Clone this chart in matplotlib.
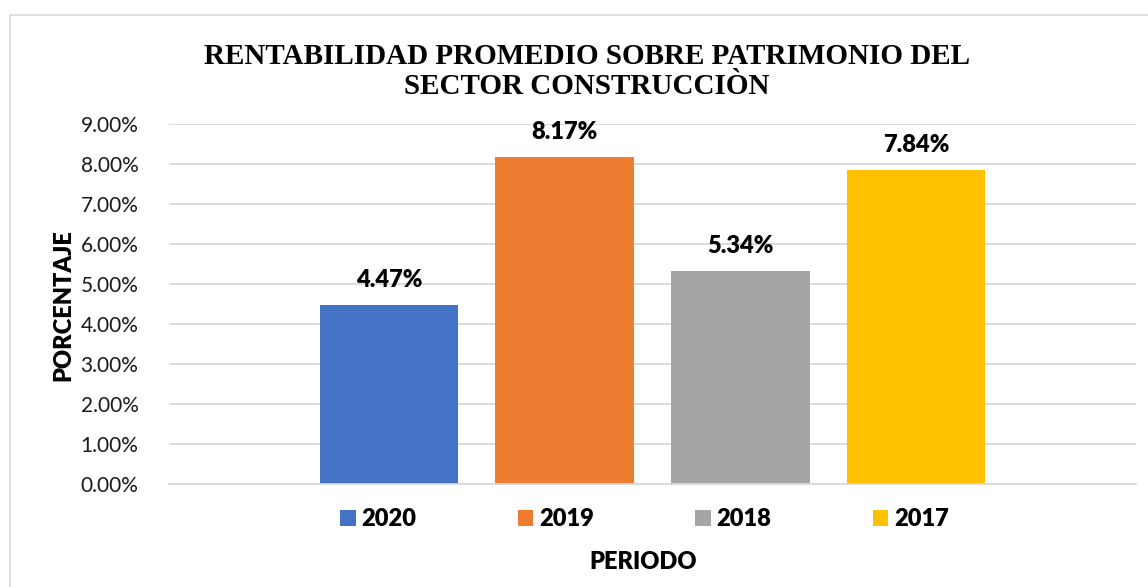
import matplotlib.pyplot as plt
from matplotlib.patches import Rectangle
from matplotlib.ticker import PercentFormatter

years = ['2020', '2019', '2018', '2017']
values = [4.47, 8.17, 5.34, 7.84]
colors = ['#4472C4', '#ED7D31', '#A5A5A5', '#FFC000']
yticks = [0, 1, 2, 3, 4, 5, 6, 7, 8, 9]

W, H = 1148, 587
BOLD = 'heavy'
fig = plt.figure(figsize=(W / 100, H / 100), dpi=100)

# chart border (only top and left visible in the crop)
fig.patches.append(Rectangle((10 / W, -0.1), 1.2, 1 - 15 / H + 0.1,
                             transform=fig.transFigure, fill=False,
                             edgecolor='#d9d9d9', linewidth=1.2))

ax = fig.add_axes([169 / W, 1 - 484.3 / H, 967 / W, 360.3 / H])

xpos = range(len(years))
bars = ax.bar(xpos, values, width=0.786, color=colors, label=years, zorder=2)
for x, v in zip(xpos, values):
    ax.annotate(f'{v:.2f}%', (x, v), xytext=(0, 18), textcoords='offset points',
                ha='center', va='center', fontsize=17, fontweight=BOLD,
                family='Lato', clip_on=False)

ax.set_xlim(-1.25, 4.25)
ax.set_ylim(0, 9)
ax.set_yticks(yticks)
ax.yaxis.set_major_formatter(PercentFormatter(decimals=2))
ax.set_xticks([])
ax.grid(axis='y', color='#d9d9d9', linewidth=1.3, zorder=0)
ax.tick_params(axis='y', length=0, pad=22, labelsize=15, labelcolor='#1a1a1a')
for lbl in ax.get_yticklabels():
    lbl.set_family('Lato')
for side in ['top', 'right', 'left']:
    ax.spines[side].set_visible(False)
ax.spines['bottom'].set_color('#d9d9d9')
ax.spines['bottom'].set_linewidth(1.3)

fig.text(63 / W, 1 - 305 / H, 'PORCENTAJE', rotation=90, ha='center', va='center',
         fontsize=17, fontweight=BOLD, family='Lato')
fig.text(643 / W, 1 - 562 / H, 'PERIODO', ha='center', va='center',
         fontsize=17, fontweight=BOLD, family='Lato')

fig.text(587 / W, 1 - 71.5 / H,
         'RENTABILIDAD PROMEDIO SOBRE PATRIMONIO DEL\nSECTOR CONSTRUCCIÒN',
         ha='center', va='center', fontsize=21, fontweight='bold',
         family='Liberation Serif', linespacing=1.1)

leg = fig.legend(handles=bars.patches, labels=years, loc='center',
                 bbox_to_anchor=(644.5 / W, 1 - 519 / H), ncol=4, frameon=False,
                 handlelength=0.64, handleheight=0.64, handletextpad=0.25,
                 columnspacing=4.3, prop={'family': 'Lato', 'weight': BOLD, 'size': 17})

fig.savefig('out.png', dpi=100)
